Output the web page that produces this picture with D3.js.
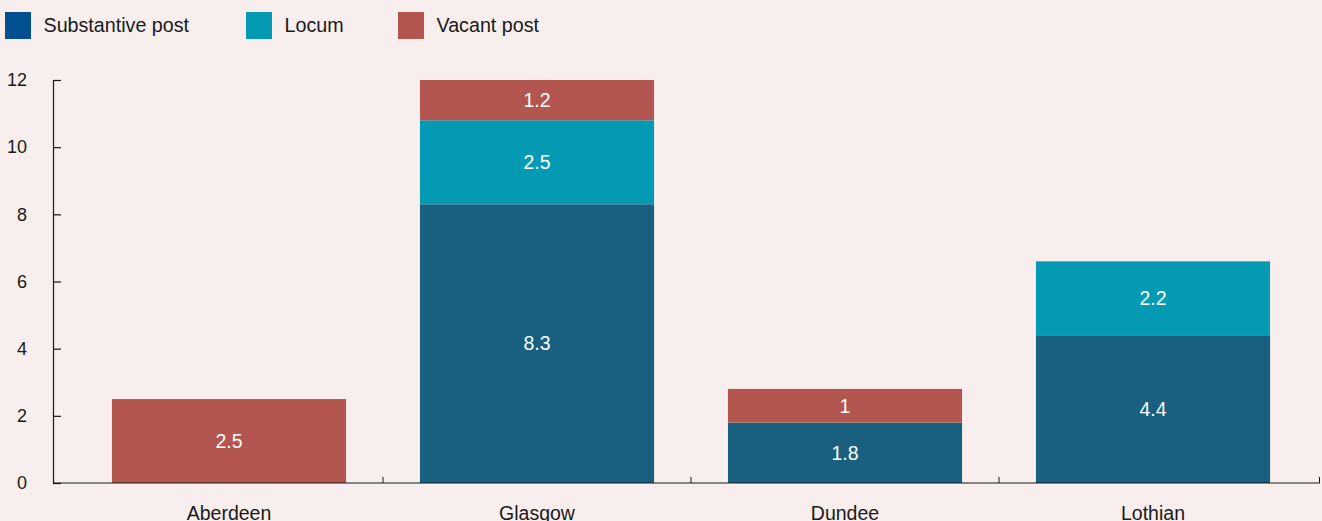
<!DOCTYPE html>
<html>
<head>
<meta charset="utf-8">
<script src="https://cdn.jsdelivr.net/npm/d3@7"></script>
<style>
  html, body { margin: 0; padding: 0; background: #f7eeed; }
  svg { display: block; font-family: "Liberation Sans", Arial, sans-serif; }
</style>
</head>
<body>
<svg id="chart" width="1322" height="521"></svg>
<script>
// Posts by health board, stacked by post type
const categories = ["Aberdeen", "Glasgow", "Dundee", "Lothian"];
const seriesNames = ["Substantive post", "Locum", "Vacant post"];
const substantive = [0, 8.3, 1.8, 4.4];
const locum = [0, 2.5, 0, 2.2];
const vacant = [2.5, 1.2, 1, 0];
const yTicks = [0, 2, 4, 6, 8, 10, 12];

const barColors = ["#185f80", "#059ab3", "#b35650"];
const legendColors = ["#02508f", "#059ab3", "#b35650"];

const svg = d3.select("#chart");
const axisLeftX = 53, axisRightX = 1320;
const ink = "#1a1a1a";

const rows = categories.map((c, i) => ({
  category: c,
  "Substantive post": substantive[i],
  "Locum": locum[i],
  "Vacant post": vacant[i]
}));
const stacked = d3.stack().keys(seriesNames)(rows);

const x = d3.scaleBand()
  .domain(categories)
  .range([75, 1307])
  .paddingInner(0.24)
  .paddingOuter(0.12);

const y = d3.scaleLinear().domain([0, 12]).range([483, 80]);

// Stacked bars
const layer = svg.append("g").selectAll("g")
  .data(stacked)
  .join("g")
  .attr("fill", (d, i) => barColors[i]);

layer.selectAll("rect")
  .data(d => d.filter(s => s[1] - s[0] > 0))
  .join("rect")
  .attr("x", d => x(d.data.category))
  .attr("width", x.bandwidth())
  .attr("y", d => y(d[1]))
  .attr("height", d => y(d[0]) - y(d[1]));

// Segment value labels
layer.selectAll("text")
  .data(d => d.filter(s => s[1] - s[0] > 0))
  .join("text")
  .attr("x", d => x(d.data.category) + x.bandwidth() / 2)
  .attr("y", d => (y(d[0]) + y(d[1])) / 2)
  .attr("dy", "0.35em")
  .attr("text-anchor", "middle")
  .attr("fill", "#ffffff")
  .attr("font-size", 19.5)
  .text(d => d3.format("~g")(+(d[1] - d[0]).toFixed(2)));

// Y axis with inward ticks
const yAxis = svg.append("g")
  .attr("transform", `translate(${axisLeftX},0)`)
  .call(d3.axisLeft(y).tickValues(yTicks).tickSizeInner(-8).tickSizeOuter(-8).tickPadding(26).tickFormat(d3.format("d")));
yAxis.select(".domain").attr("stroke", ink).attr("stroke-width", 1.2);
yAxis.selectAll(".tick line").attr("stroke", ink).attr("stroke-width", 1.2);
yAxis.selectAll(".tick text").attr("font-size", 18).attr("fill", ink)
  .attr("font-family", "Liberation Sans, Arial, sans-serif");

// X axis: baseline, category separators, labels
const xAxis = svg.append("g");
xAxis.append("line")
  .attr("x1", axisLeftX).attr("x2", axisRightX)
  .attr("y1", y(0)).attr("y2", y(0))
  .attr("stroke", ink).attr("stroke-width", 1.2);

const step = x.step();
const separators = categories.slice(1).map(c => x(c) - step * x.paddingInner() / 2);
separators.push(axisRightX - 0.5);
xAxis.selectAll("line.sep")
  .data(separators)
  .join("line")
  .attr("class", "sep")
  .attr("x1", d => d).attr("x2", d => d)
  .attr("y1", y(0)).attr("y2", y(0) - 6)
  .attr("stroke", ink).attr("stroke-width", 1);

xAxis.selectAll("text")
  .data(categories)
  .join("text")
  .attr("x", d => x(d) + x.bandwidth() / 2)
  .attr("y", 520)
  .attr("text-anchor", "middle")
  .attr("font-size", 19.5)
  .attr("fill", ink)
  .text(d => d);

// Legend
const legendX = [5, 246, 398];
const legend = svg.append("g").selectAll("g")
  .data(seriesNames)
  .join("g")
  .attr("transform", (d, i) => `translate(${legendX[i]},12)`);
legend.append("rect")
  .attr("width", 26).attr("height", 27)
  .attr("fill", (d, i) => legendColors[i]);
legend.append("text")
  .attr("x", 38.5)
  .attr("y", 13.5)
  .attr("dy", "0.35em")
  .attr("font-size", 19.7)
  .attr("fill", ink)
  .text(d => d);
</script>
</body>
</html>
